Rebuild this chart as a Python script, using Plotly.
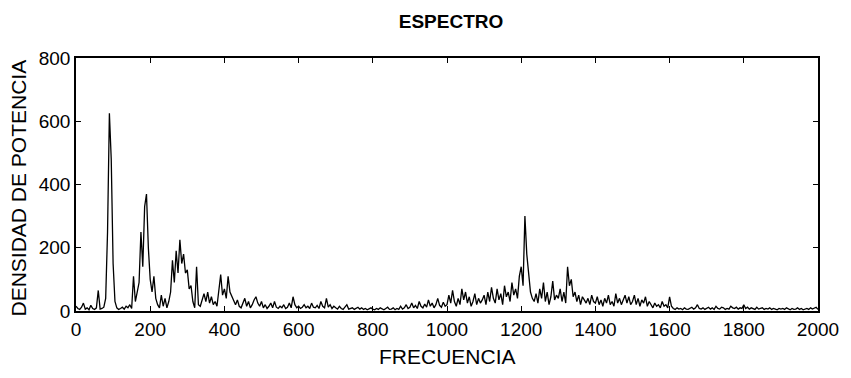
import plotly.graph_objects as go

freq_step = 5
frecuencia = [i * freq_step for i in range(401)]

densidad = [
    # 0-95
    15, 8, 5, 12, 25, 6, 10, 4, 18, 8, 5, 10, 65, 6, 8, 12, 40, 250, 625, 480,
    # 100-195
    150, 30, 10, 5, 8, 12, 6, 15, 10, 20, 8, 110, 30, 60, 90, 250, 140, 330, 370, 200,
    # 200-295
    100, 60, 110, 40, 20, 10, 50, 15, 40, 10, 30, 60, 160, 90, 190, 120, 225, 150, 180, 120,
    # 300-395
    130, 70, 80, 30, 10, 140, 20, 15, 40, 55, 30, 60, 25, 45, 20, 30, 15, 60, 115, 50,
    # 400-495
    70, 40, 110, 60, 45, 30, 20, 35, 15, 10, 25, 40, 15, 30, 10, 20, 35, 45, 25, 15,
    # 500-595
    30, 10, 20, 8, 15, 25, 10, 30, 12, 8, 15, 10, 20, 8, 12, 25, 10, 45, 20, 10,
    # 600-695
    15, 8, 12, 20, 10, 15, 8, 25, 12, 10, 18, 8, 30, 15, 10, 40, 12, 20, 8, 15,
    # 700-795
    10, 6, 15, 8, 5, 12, 20, 6, 8, 10, 5, 8, 12, 6, 10, 5, 8, 4, 6, 10,
    # 800-895
    6, 4, 8, 5, 10, 6, 4, 8, 12, 5, 6, 10, 4, 8, 5, 15, 6, 10, 20, 8,
    # 900-995
    12, 25, 10, 18, 8, 30, 15, 10, 22, 12, 35, 15, 25, 10, 20, 40, 18, 12, 28, 15,
    # 1000-1095
    20, 50, 25, 65, 30, 15, 40, 20, 70, 35, 60, 25, 45, 15, 30, 55, 20, 40, 25, 35,
    # 1100-1195
    50, 20, 60, 30, 75, 40, 25, 70, 35, 55, 20, 80, 45, 60, 30, 90, 50, 70, 40, 110,
    # 1200-1295
    140, 80, 300, 180, 120, 60, 40, 30, 55, 25, 70, 40, 90, 30, 60, 20, 45, 95, 35, 50,
    # 1300-1395
    40, 70, 30, 60, 25, 140, 80, 100, 45, 60, 30, 50, 20, 45, 35, 25, 40, 20, 50, 30,
    # 1400-1495
    25, 45, 20, 35, 15, 40, 25, 50, 20, 30, 15, 55, 25, 40, 20, 35, 50, 25, 45, 20,
    # 1500-1595
    30, 50, 20, 40, 15, 35, 25, 45, 15, 30, 20, 10, 25, 15, 20, 10, 30, 15, 20, 10,
    # 1600-1695
    45, 15, 8, 5, 10, 6, 8, 4, 10, 6, 5, 8, 12, 6, 10, 20, 8, 6, 10, 5,
    # 1700-1795
    8, 12, 6, 10, 5, 15, 8, 6, 12, 10, 5, 8, 6, 15, 10, 8, 12, 6, 10, 8,
    # 1800-1895
    20, 8, 12, 6, 10, 8, 5, 12, 6, 8, 10, 5, 8, 6, 10, 5, 8, 6, 4, 8,
    # 1900-2000
    6, 8, 5, 10, 6, 4, 8, 5, 6, 10, 5, 8, 4, 6, 8, 5, 10, 6, 8, 12, 5,
]

x_ticks = [0, 200, 400, 600, 800, 1000, 1200, 1400, 1600, 1800, 2000]
y_ticks = [0, 200, 400, 600, 800]

titulo = "ESPECTRO"
titulo_x = "FRECUENCIA"
titulo_y = "DENSIDAD DE POTENCIA"

FONT = "Liberation Sans, Arial, sans-serif"

fig = go.Figure()
fig.add_trace(go.Scatter(
    x=frecuencia, y=densidad, mode="lines",
    line=dict(color="black", width=1.3),
    showlegend=False, hoverinfo="skip",
))

axis_common = dict(
    showline=True, linecolor="black", linewidth=1.5, mirror="ticks",
    ticks="inside", ticklen=5, tickcolor="black", tickwidth=1.2,
    showgrid=False, zeroline=False,
    tickfont=dict(family=FONT, size=19, color="black"),
)

fig.update_layout(
    width=851, height=378,
    margin=dict(l=76, r=29, t=58, b=67),
    paper_bgcolor="white", plot_bgcolor="white",
    title=dict(text="<b>" + titulo + "</b>", x=0.53, xanchor="center", y=0.944, yanchor="middle",
               font=dict(family=FONT, size=19, color="black")),
    xaxis=dict(range=[0, 2000], tickvals=x_ticks, **axis_common),
    yaxis=dict(range=[0, 800], tickvals=y_ticks, **axis_common),
    annotations=[
        dict(text=titulo_x, xref="paper", yref="paper", x=0.5, y=0,
             xanchor="center", yanchor="middle", yshift=-45, showarrow=False,
             font=dict(family=FONT, size=21, color="black")),
        dict(text=titulo_y, xref="paper", yref="paper", x=0, y=0.5,
             xanchor="center", yanchor="middle", xshift=-58, yshift=-4, textangle=-90,
             showarrow=False, font=dict(family=FONT, size=21, color="black")),
    ],
)

fig.write_html("out.html")
